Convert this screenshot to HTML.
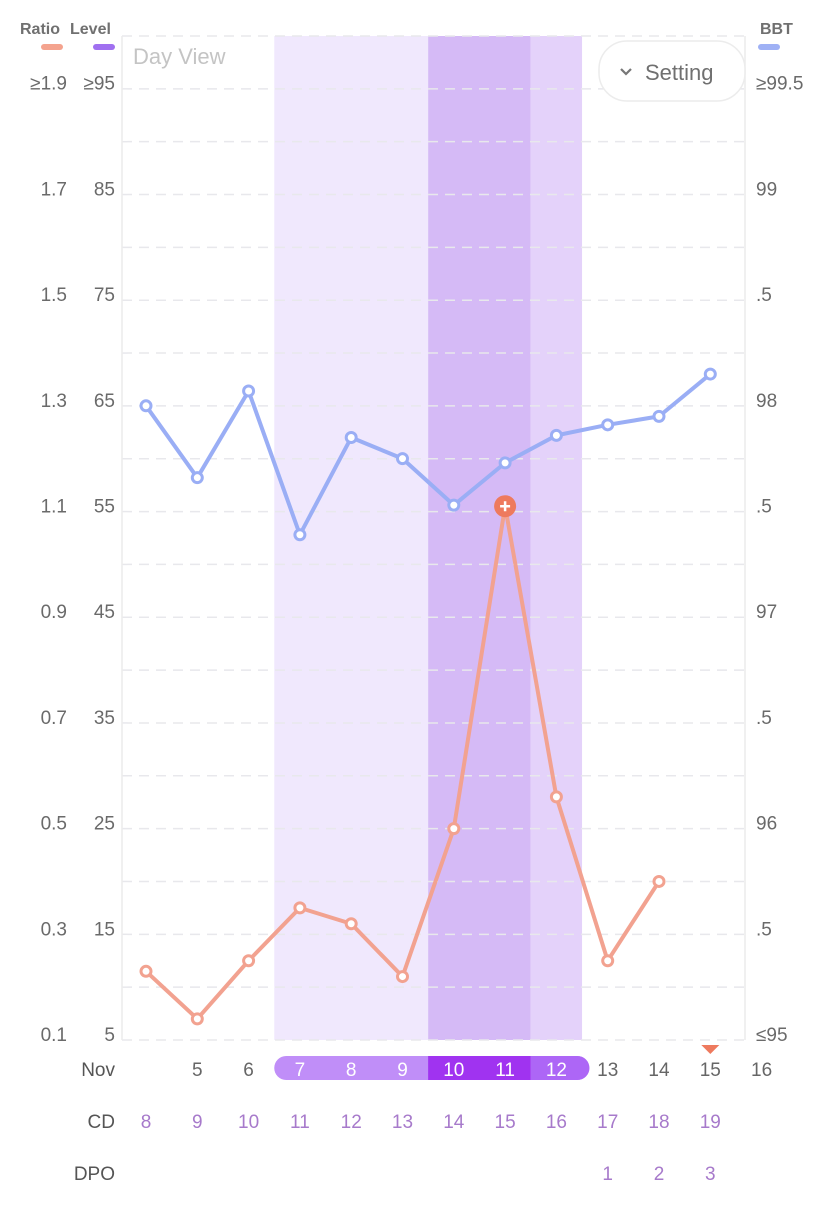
<!DOCTYPE html>
<html><head><meta charset="utf-8"><style>
body{margin:0;background:#fff;font-family:"Liberation Sans",sans-serif;}
svg text{font-family:"Liberation Sans",sans-serif;}
</style></head><body>
<svg id="chart" width="828" height="1200" xmlns="http://www.w3.org/2000/svg">
<g id="bands"></g>
<g id="grid"></g>
<g id="axes"></g>
<g id="series"></g>
<g id="xaxis"></g>
<g>
<text x="20" y="34" font-size="16" font-weight="bold" fill="#707070">Ratio</text>
<rect x="41" y="44" width="22" height="6" rx="3" fill="#f4a38e"/>
<text x="70" y="34" font-size="16" font-weight="bold" fill="#707070">Level</text>
<rect x="93" y="44" width="22" height="6" rx="3" fill="#a070f0"/>
<text x="760" y="34" font-size="16" font-weight="bold" fill="#707070">BBT</text>
<rect x="758" y="44" width="22" height="6" rx="3" fill="#9fb1f5"/>
</g>
<text x="133" y="64" font-size="22" fill="#c4c4c4">Day View</text>
<g>
<rect x="599" y="41" width="146" height="60" rx="28" fill="#fff" stroke="#ececec" stroke-width="1.5"/>
<path d="M621 69 l5 5 l5 -5" fill="none" stroke="#777" stroke-width="2.2"/>
<text x="645" y="80" font-size="22" fill="#707070">Setting</text>
</g>
</svg>
<script>
const days=[4,5,6,7,8,9,10,11,12,13,14,15,16];
const bbtDays=[4,5,6,7,8,9,10,11,12,13,14,15];
const bbtValues=[98.0,97.66,98.07,97.39,97.85,97.75,97.53,97.73,97.86,97.91,97.95,98.15];
const ratioDays=[4,5,6,7,8,9,10,11,12,13,14];
const ratioValues=[0.23,0.14,0.25,0.35,0.32,0.22,0.50,1.11,0.56,0.25,0.40];
const peakDay=11;
const ratioTicks=["≥1.9","1.7","1.5","1.3","1.1","0.9","0.7","0.5","0.3","0.1"];
const levelTicks=["≥95","85","75","65","55","45","35","25","15","5"];
const bbtTicks=["≥99.5","99",".5","98",".5","97",".5","96",".5","≤95"];
const novLabels=["","5","6","7","8","9","10","11","12","13","14","15","16"];
const cdLabels=["8","9","10","11","12","13","14","15","16","17","18","19",""];
const dpoLabels=["","","","","","","","","","1","2","3",""];
const fertileDays=[7,8,9];const peakDays=[10,11];const postDays=[12];
const NS="http://www.w3.org/2000/svg";
const X=d=>146+(d-4)*51.3;
const Yr=r=>1040-(r-0.1)*528.5;
const Yb=b=>1040-(b-95)*211.4;
function mk(t,a,p){const e=document.createElementNS(NS,t);for(const k in a)e.setAttribute(k,a[k]);p.appendChild(e);return e;}
const bands=document.getElementById('bands');
function band(ds,c,n){const x0=X(ds[0])-25.65,x1=X(ds[ds.length-1])+25.65;const r=mk('rect',{x:x0,y:36,width:x1-x0,height:1004,fill:c},bands);}
band(fertileDays,'#f0e8fd','fertile-band');band(peakDays,'#d5baf6','peak-band');band(postDays,'#e4d2fa','post-peak-band');
const grid=document.getElementById('grid');
for(let i=0;i<=19;i++){const y=36+i*(1004/19);const l=mk('line',{x1:122,x2:745,y1:y,y2:y,stroke:'#e8e8ec','stroke-width':1.5,'stroke-dasharray':'10 7'},grid);}
mk('line',{x1:122,x2:122,y1:36,y2:1040,stroke:'#ececec','stroke-width':1.5},grid);
mk('line',{x1:745,x2:745,y1:36,y2:1040,stroke:'#ececec','stroke-width':1.5},grid);
const axes=document.getElementById('axes');
for(let i=0;i<10;i++){const y=Yr(1.9-i*0.2)-0;
let t=mk('text',{x:67,y:y+1,'font-size':19,fill:'#6a6a6a','text-anchor':'end'},axes);t.textContent=ratioTicks[i];
t=mk('text',{x:115,y:y+1,'font-size':19,fill:'#6a6a6a','text-anchor':'end'},axes);t.textContent=levelTicks[i];
t=mk('text',{x:756,y:y+1,'font-size':19,fill:'#6a6a6a'},axes);t.textContent=bbtTicks[i];}
const ser=document.getElementById('series');
function line(ds,vs,Y,c,n){const p=mk('polyline',{points:ds.map((d,i)=>X(d)+','+Y(vs[i])).join(' '),fill:'none',stroke:c,'stroke-width':4,'stroke-linejoin':'round'},ser);
ds.forEach((d,i)=>{if(n==='ratio'&&d===peakDay)return;const c2=mk('circle',{cx:X(d),cy:Y(vs[i]),r:5,fill:'#fff',stroke:c,'stroke-width':3},ser);});}
line(bbtDays,bbtValues,Yb,'#9aaef5','bbt');
line(ratioDays,ratioValues,Yr,'#f2a290','ratio');
const pi=ratioDays.indexOf(peakDay);const px=X(peakDay),py=Yr(ratioValues[pi]);
const pk=mk('circle',{cx:px,cy:py,r:11,fill:'#ee7a5e'},ser);
mk('path',{d:`M${px-5} ${py} h10 M${px} ${py-5} v10`,stroke:'#fff','stroke-width':2.5},ser);
const xa=document.getElementById('xaxis');
let t=mk('text',{x:115,y:1076,'font-size':19,fill:'#555','text-anchor':'end'},xa);t.textContent='Nov';
t=mk('text',{x:115,y:1128,'font-size':19,fill:'#555','text-anchor':'end'},xa);t.textContent='CD';
t=mk('text',{x:115,y:1180,'font-size':19,fill:'#555','text-anchor':'end'},xa);t.textContent='DPO';
const pillL=X(7)-25.65,pillR=X(12)+33;
mk('rect',{x:pillL,y:1056,width:pillR-pillL,height:24,rx:12,fill:'#c08ef8'},xa);
mk('rect',{x:X(10)-25.65,y:1056,width:102.6,height:24,fill:'#a033f0'},xa);
mk('path',{d:`M${X(12)-25.65} 1056 H${pillR-12} a12 12 0 0 1 0 24 H${X(12)-25.65} Z`,fill:'#ad66f6'},xa);
mk('path',{d:`M${X(15)-9} 1045 h18 l-9 9 z`,fill:'#ee7a5e'},xa);
days.forEach((d,i)=>{const inPill=d>=7&&d<=12;
let e=mk('text',{x:X(d),y:1076,'font-size':19,fill:inPill?'#fff':'#666','text-anchor':'middle'},xa);e.textContent=novLabels[i];
e=mk('text',{x:X(d),y:1128,'font-size':19,fill:'#a77acb','text-anchor':'middle'},xa);e.textContent=cdLabels[i];
e=mk('text',{x:X(d),y:1180,'font-size':19,fill:'#a77acb','text-anchor':'middle'},xa);e.textContent=dpoLabels[i];});
</script>
</body></html>
